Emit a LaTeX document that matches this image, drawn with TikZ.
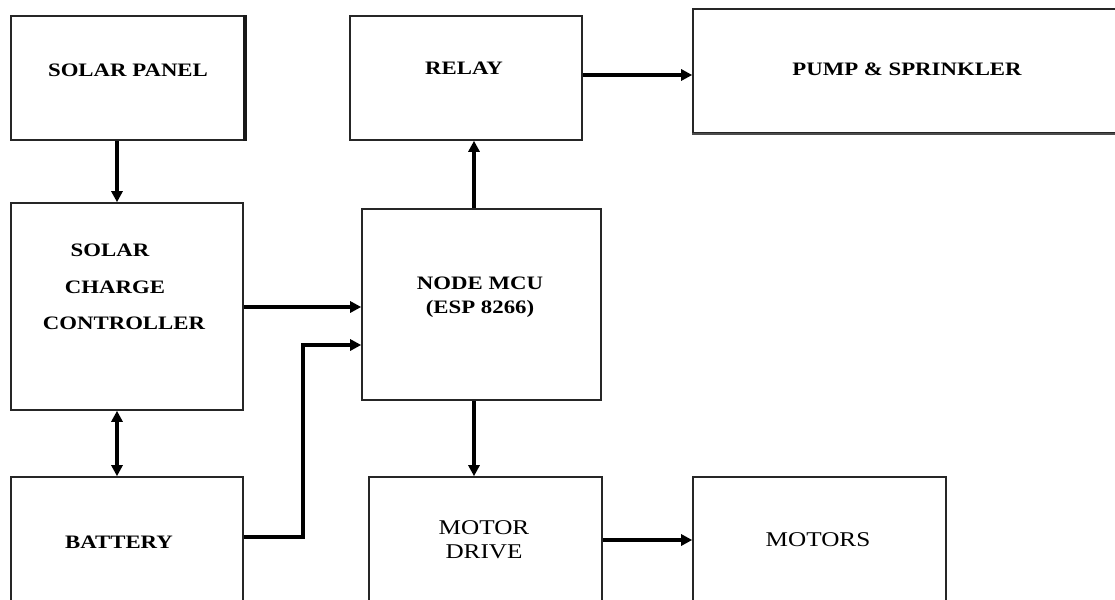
\documentclass[tikz,border=0pt]{standalone}
\usepackage{fontspec}
\setmainfont[FakeStretch=1.2]{Liberation Serif}
\usetikzlibrary{arrows.meta}
\begin{document}
\begin{tikzpicture}[x=1pt,y=-1pt,
  box/.style={draw=black!85, line width=1.6pt, inner sep=0pt, fill=white},
  arr/.style={line width=3.4pt, -{Triangle[length=11pt,width=11pt]}},
  biarr/.style={line width=3.4pt, {Triangle[length=11pt,width=11pt]}-{Triangle[length=11pt,width=11pt]}},
  blbl/.style={anchor=base, inner sep=0pt, font=\fontsize{19}{21}\selectfont\bfseries},
  rlbl/.style={anchor=base, inner sep=0pt, font=\fontsize{21}{23}\selectfont}]
\useasboundingbox (0,0) rectangle (1115,599);
\clip (0,0) rectangle (1115,599);
% boxes
\node[box, minimum width=233, minimum height=124] (sp) at (127.5,78) {};
\node[box, minimum width=232, minimum height=207] (scc) at (127,306.5) {};
\node[box, minimum width=232, minimum height=173] (bat) at (127,563.5) {};
\node[box, minimum width=232, minimum height=124] (relay) at (466,78) {};
\node[box, minimum width=447, minimum height=124] (pump) at (916.5,71) {};
\node[box, minimum width=239, minimum height=191] (mcu) at (481.5,304.5) {};
\node[box, minimum width=233, minimum height=173] (md) at (485.5,563.5) {};
\node[box, minimum width=253, minimum height=173] (mot) at (819.5,563.5) {};
\draw[line width=3.4pt, black!90] (sp.north east) -- (sp.south east);
\draw[line width=2.6pt, black!70] (pump.south west) -- (pump.south east);
% labels
\node[blbl] (tsp) at (128,76.5) {SOLAR PANEL};
\node[blbl] (trelay) at (464,74.5) {RELAY};
\node[blbl] (tpump) at (907,75.5) {PUMP \& SPRINKLER};
\node[blbl] (tscc1) at (110,256.5) {SOLAR};
\node[blbl] (tscc2) at (115,293.5) {CHARGE};
\node[blbl] (tscc3) at (124,329.5) {CONTROLLER};
\node[blbl] (tmcu1) at (480,289.5) {NODE MCU};
\node[blbl] (tmcu2) at (480,313.5) {(ESP 8266)};
\node[blbl] (tbat) at (119,548.5) {BATTERY};
\node[rlbl] (tmd1) at (484,534) {MOTOR};
\node[rlbl] (tmd2) at (484,558) {DRIVE};
\node[rlbl] (tmot) at (818,546) {MOTORS};
% connectors
\draw[arr] (117,0 |- sp.south) -- (117,0 |- scc.north);
\draw[biarr] (117,0 |- scc.south) -- (117,0 |- bat.north);
\draw[arr] (scc.east |- 0,307) -- (mcu.west |- 0,307);
\draw[arr] (bat.east |- 0,537) -- (303,537) -- (303,345) -- (mcu.west |- 0,345);
\draw[arr] (474,0 |- mcu.north) -- (474,0 |- relay.south);
\draw[arr] (relay.east |- 0,75) -- (pump.west |- 0,75);
\draw[arr] (474,0 |- mcu.south) -- (474,0 |- md.north);
\draw[arr] (md.east |- 0,540) -- (mot.west |- 0,540);
\end{tikzpicture}
\end{document}
